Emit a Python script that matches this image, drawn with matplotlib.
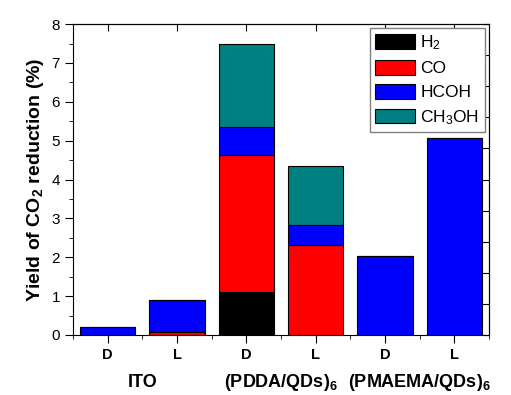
import numpy as np
import matplotlib.pyplot as plt
from matplotlib.ticker import MultipleLocator, NullFormatter

plt.rcParams['font.family'] = ['Liberation Sans', 'DejaVu Sans']
plt.rcParams['mathtext.fontset'] = 'custom'
plt.rcParams['mathtext.rm'] = 'Liberation Sans'
plt.rcParams['mathtext.bf'] = 'Liberation Sans:bold'
plt.rcParams['mathtext.default'] = 'regular'

# yields of CO2 reduction (%) per sample
samples = ["D", "L", "D", "L", "D", "L"]
groups = ["ITO", "(PDDA/QDs)$_6$", "(PMAEMA/QDs)$_6$"]
h2 = [0, 0, 1.11, 0, 0, 0]
co = [0, 0.08, 3.53, 2.31, 0, 0]
hcoh = [0.20, 0.82, 0.72, 0.51, 2.02, 5.06]
ch3oh = [0, 0, 2.12, 1.52, 0, 0]

x = np.arange(1, len(samples) + 1)

fig = plt.figure(figsize=(5.11, 3.95), dpi=100)
ax = fig.add_axes([0.143, 0.152, 0.814, 0.787])

series = [(h2, "black", "H$_2$"), (co, "#ff0000", "CO"),
          (hcoh, "#0000ff", "HCOH"), (ch3oh, "#008080", "CH$_3$OH")]
bottom = np.zeros(len(x))
for vals, col, lab in series:
    vals = np.array(vals)
    ax.bar(x, vals, 0.8, bottom=bottom, color=col, edgecolor="black",
           linewidth=0.8, label=lab)
    bottom += vals

ax.set_xlim(0.5, 6.5)
ax.set_ylim(0, 8)
ax.set_xticks(x)
ax.set_xticklabels(samples, fontweight="bold", fontsize=10.5)
ax.xaxis.set_minor_locator(MultipleLocator(1, offset=0.5))
ax.yaxis.set_major_locator(MultipleLocator(1))
ax.yaxis.set_minor_locator(MultipleLocator(0.5))
ax.tick_params(axis="y", labelsize=11)
ax.tick_params(which="major", direction="out", length=6)
ax.tick_params(which="minor", direction="out", length=3)
ax.set_ylabel("Yield of CO$_2$ reduction (%)", fontsize=14, fontweight="bold",
              labelpad=4)

# inward ticks on top and right, like the original
top = ax.secondary_xaxis("top")
top.set_xticks(x)
top.xaxis.set_major_formatter(NullFormatter())
top.tick_params(direction="in", length=5)
right = ax.secondary_yaxis("right", functions=(lambda v: v * 1.25, lambda v: v / 1.25))
right.set_yticks(np.arange(0, 11))
right.yaxis.set_major_formatter(NullFormatter())
right.tick_params(direction="in", length=5)

for i, g in enumerate(groups):
    ax.text(1.5 + 2 * i, -1.34, g, ha="center", va="baseline", fontsize=13,
            fontweight="bold", clip_on=False)

leg = ax.legend(loc="upper right", fontsize=12.5, fancybox=False,
                edgecolor="gray", handlelength=2.3, handleheight=0.9,
                borderaxespad=0.25, labelspacing=0.45, handletextpad=0.3,
                borderpad=0.3, framealpha=1)

fig.savefig("out.png", dpi=100)
